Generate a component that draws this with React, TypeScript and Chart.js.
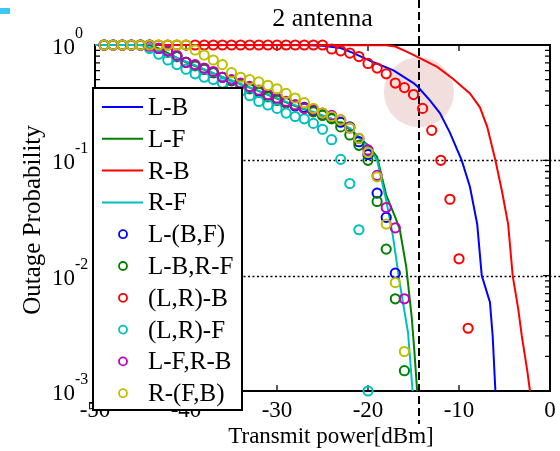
import React, { useEffect, useRef } from "react";
import { Chart, registerables } from "chart.js";

Chart.register(...registerables);

// ---------- data ----------
const xTicks = [-50, -40, -30, -20, -10, 0];
const yTicks = [1, 0.1, 0.01, 0.001];
const yTickExponents = ["0", "-1", "-2", "-3"];
const yMinorTicks = [
  0.9, 0.8, 0.7, 0.6, 0.5, 0.4, 0.3, 0.2,
  0.09, 0.08, 0.07, 0.06, 0.05, 0.04, 0.03, 0.02,
  0.009, 0.008, 0.007, 0.006, 0.005, 0.004, 0.003, 0.002,
];

const markerPower = [
  -49, -48, -47, -46, -45, -44, -43, -42, -41, -40,
  -39, -38, -37, -36, -35, -34, -33, -32, -31, -30,
  -29, -28, -27, -26, -25, -24, -23, -22, -21, -20,
  -19, -18, -17, -16, -15, -14, -13, -12, -11, -10, -9,
];

// line series (simulation curves)
const lbX = [-50, -27, -25, -23, -21.6, -19.4, -17.2, -15, -14.5, -13.2, -12.1, -11, -9.7, -8.8, -8, -7.5, -6.6, -6.3, -6.0];
const lbY = [1, 1, 0.985, 0.942, 0.851, 0.708, 0.603, 0.468, 0.432, 0.331, 0.257, 0.174, 0.1, 0.059, 0.028, 0.01, 0.0059, 0.003, 0.001];

const lfX = [-50, -44, -43, -40, -36, -32, -28, -24, -22, -21, -20, -19, -18, -17, -16.5, -15.8, -15.2, -14.9, -14.6];
const lfY = [1, 1, 0.933, 0.708, 0.525, 0.398, 0.295, 0.229, 0.186, 0.158, 0.135, 0.107, 0.05, 0.032, 0.025, 0.012, 0.0044, 0.0022, 0.001];

const rbX = [-50, -18, -17, -15.7, -14.3, -12.4, -10.7, -8.8, -7.7, -6.9, -6.0, -5.3, -4.6, -4.1, -3.5, -3.1, -2.5, -2.2];
const rbY = [1, 0.995, 0.97, 0.871, 0.771, 0.646, 0.513, 0.38, 0.288, 0.195, 0.1, 0.055, 0.028, 0.01, 0.0052, 0.003, 0.0015, 0.001];

const rfX = [-50, -45, -44, -40, -36, -32, -28, -24, -22, -21, -20, -19, -18, -17.3, -16.5, -15.6, -15.1];
const rfY = [1, 1, 0.95, 0.72, 0.53, 0.4, 0.3, 0.23, 0.19, 0.16, 0.13, 0.1, 0.045, 0.023, 0.0085, 0.0032, 0.001];

// marker series (analysis), aligned with markerPower
const lBF = [
  1, 1, 1, 1, 1, 1, 0.933, 0.871, 0.794, 0.708,
  0.661, 0.617, 0.575, 0.525, 0.49, 0.457, 0.427, 0.398, 0.363, 0.339,
  0.316, 0.295, 0.288, 0.269, 0.251, 0.234, 0.214, 0.195, 0.145, 0.112,
  0.052, 0.032, 0.0105, null, null, null, null, null, null, null, null,
];
const lBrF = [
  1, 1, 1, 1, 1, 1, 0.933, 0.871, 0.794, 0.708,
  0.661, 0.617, 0.575, 0.525, 0.49, 0.457, 0.417, 0.389, 0.355, 0.331,
  0.316, 0.302, 0.282, 0.263, 0.245, 0.229, 0.195, 0.166, 0.135, 0.1,
  0.044, 0.017, 0.0063, 0.0015, null, null, null, null, null, null, null,
];
const lrB = [
  1, 1, 1, 1, 1, 1, 1, 1, 1, 1,
  1, 1, 1, 1, 1, 1, 1, 1, 1, 1,
  1, 1, 1, 1, 1, 0.923, 0.891, 0.851, 0.794, 0.692,
  0.631, 0.562, 0.468, 0.427, 0.372, 0.282, 0.182, 0.1, 0.046, 0.014, 0.0035,
];
const lrF = [
  1, 1, 1, 1, 1, 0.933, 0.832, 0.741, 0.676, 0.617,
  0.562, 0.525, 0.501, 0.468, 0.437, 0.398, 0.363, 0.324, 0.302, 0.282,
  0.257, 0.24, 0.229, 0.209, 0.186, 0.151, 0.102, 0.063, 0.025, 0.001,
  null, null, null, null, null, null, null, null, null, null, null,
];
const lFrB = [
  1, 1, 1, 1, 1, 0.977, 0.933, 0.891, 0.813, 0.708,
  0.676, 0.631, 0.589, 0.525, 0.501, 0.468, 0.437, 0.407, 0.372, 0.347,
  0.324, 0.302, 0.282, 0.275, 0.257, 0.245, 0.224, 0.191, 0.155, 0.123,
  0.074, 0.039, 0.026, 0.0063, null, null, null, null, null, null, null,
];
const rFB = [
  1, 1, 1, 1, 1, 1, 1, 1, 1, 1,
  0.906, 0.818, 0.741, 0.676, 0.575, 0.525, 0.501, 0.479, 0.447, 0.417,
  0.38, 0.347, 0.316, 0.282, 0.257, 0.24, 0.224, 0.191, 0.155, 0.117,
  0.072, 0.028, 0.0087, 0.0022, null, null, null, null, null, null, null,
];

const thresholdPower = -14.4;
const highlightPower = -14.4;
const highlightOutage = 0.39;

const BLUE = "#0000ff";
const GREEN = "#008000";
const RED = "#ff0000";
const CYAN = "#00bfbf";
const MAGENTA = "#bf00bf";
const YELLOW = "#bfbf00";
const SERIF = '"Liberation Serif", "Times New Roman", serif';

const toPts = (xs: number[], ys: (number | null)[]) =>
  xs.map((x, i) => ({ x, y: ys[i] })).filter((p) => p.y !== null);

const lineDs = (label: string, color: string, xs: number[], ys: number[], order: number) => ({
  label,
  data: toPts(xs, ys),
  borderColor: color,
  backgroundColor: color,
  borderWidth: 2,
  pointRadius: 0,
  showLine: true,
  tension: 0,
  order,
  clip: false as const,
  _kind: "line",
});

const markDs = (label: string, color: string, ys: (number | null)[], order: number) => ({
  label,
  data: toPts(markerPower, ys),
  borderColor: color,
  backgroundColor: "rgba(0,0,0,0)",
  borderWidth: 2,
  pointRadius: 4.6,
  pointStyle: "circle",
  showLine: false,
  order,
  clip: false as const,
  _kind: "mark",
});

const decorPlugin = {
  id: "decor",
  beforeDatasetsDraw(chart: any) {
    const { ctx, chartArea: a, scales } = chart;
    const x = scales.x;
    const y = scales.y;
    const W = chart.width;
    ctx.save();
    // highlight circle
    ctx.fillStyle = "#f3dede";
    ctx.beginPath();
    ctx.arc(x.getPixelForValue(highlightPower), y.getPixelForValue(highlightOutage), 35, 0, Math.PI * 2);
    ctx.fill();

    // dotted grid lines at 1e-1 and 1e-2
    ctx.strokeStyle = "#000";
    ctx.lineWidth = 1.6;
    ctx.setLineDash([2, 2.5]);
    [0.1, 0.01].forEach((v) => {
      const py = Math.round(y.getPixelForValue(v)) + 0.5;
      ctx.beginPath();
      ctx.moveTo(a.left, py);
      ctx.lineTo(W, py);
      ctx.stroke();
    });

    // dashed vertical threshold
    ctx.setLineDash([8, 4]);
    ctx.lineWidth = 2;
    const tx = Math.round(x.getPixelForValue(thresholdPower));
    ctx.beginPath();
    ctx.moveTo(tx, 0);
    ctx.lineTo(tx, 424);
    ctx.stroke();
    ctx.setLineDash([]);

    // axes box
    ctx.lineWidth = 2;
    ctx.strokeRect(a.left, a.top, a.right - a.left, a.bottom - a.top);

    // ticks
    ctx.lineWidth = 1.3;
    xTicks.forEach((v) => {
      const px = x.getPixelForValue(v);
      ctx.beginPath();
      ctx.moveTo(px, a.bottom);
      ctx.lineTo(px, a.bottom - 6);
      ctx.moveTo(px, a.top);
      ctx.lineTo(px, a.top + 6);
      ctx.stroke();
    });
    yTicks.forEach((v) => {
      const py = y.getPixelForValue(v);
      ctx.beginPath();
      ctx.moveTo(a.left, py);
      ctx.lineTo(a.left + 7, py);
      ctx.moveTo(a.right, py);
      ctx.lineTo(a.right - 7, py);
      ctx.stroke();
    });
    yMinorTicks.forEach((v) => {
      const py = y.getPixelForValue(v);
      ctx.beginPath();
      ctx.moveTo(a.left, py);
      ctx.lineTo(a.left + 5, py);
      ctx.moveTo(a.right, py);
      ctx.lineTo(a.right - 5, py);
      ctx.stroke();
    });
    ctx.restore();
  },
  afterDatasetsDraw(chart: any) {
    const { ctx, chartArea: a, scales } = chart;
    const x = scales.x;
    const y = scales.y;
    ctx.save();
    ctx.fillStyle = "#000";

    // title
    ctx.font = `26px ${SERIF}`;
    ctx.textAlign = "center";
    ctx.textBaseline = "alphabetic";
    ctx.fillText("2 antenna", (a.left + a.right) / 2, 26);

    // x tick labels
    ctx.font = `23px ${SERIF}`;
    xTicks.forEach((v) => {
      ctx.fillText(String(v), x.getPixelForValue(v), 417);
    });

    // x title
    ctx.font = `23px ${SERIF}`;
    ctx.fillText("Transmit power[dBm]", 331, 443);

    // y tick labels 10^k
    ctx.textAlign = "left";
    yTicks.forEach((v, i) => {
      const py = y.getPixelForValue(v);
      ctx.font = `23px ${SERIF}`;
      ctx.fillText("10", 52, py + 9);
      const w = ctx.measureText("10").width;
      ctx.font = `16px ${SERIF}`;
      ctx.fillText(yTickExponents[i], 52 + w, py - 7);
    });

    // y title
    ctx.save();
    ctx.translate(40, (a.top + a.bottom) / 2 + 2);
    ctx.rotate(-Math.PI / 2);
    ctx.textAlign = "center";
    ctx.font = `25px ${SERIF}`;
    ctx.fillText("Outage Probability", 0, 0);
    ctx.restore();

    // small cyan mark in the top-left corner
    ctx.fillStyle = "#3cc8ef";
    ctx.fillRect(0, 8, 10, 6);

    // legend
    const lx = 93, ly = 88, lw = 149, lh = 322;
    ctx.fillStyle = "#fff";
    ctx.fillRect(lx, ly, lw, lh);
    ctx.strokeStyle = "#000";
    ctx.lineWidth = 2;
    ctx.strokeRect(lx, ly, lw, lh);
    ctx.font = `25px ${SERIF}`;
    ctx.textAlign = "left";
    ctx.textBaseline = "alphabetic";
    chart.data.datasets.forEach((ds: any, i: number) => {
      const cy = 107 + i * 31.8;
      ctx.strokeStyle = ds.borderColor;
      if (ds._kind === "line") {
        ctx.lineWidth = 2;
        ctx.beginPath();
        ctx.moveTo(102, cy);
        ctx.lineTo(143, cy);
        ctx.stroke();
      } else {
        ctx.lineWidth = 1.8;
        ctx.beginPath();
        ctx.arc(123, cy, 4, 0, Math.PI * 2);
        ctx.stroke();
      }
      ctx.fillStyle = "#000";
      ctx.fillText(ds.label, 148, cy + 8);
    });
    ctx.restore();
  },
};

export default function App() {
  const ref = useRef<HTMLCanvasElement | null>(null);
  useEffect(() => {
    if (!ref.current) return;
    const chart = new Chart(ref.current, {
      type: "scatter",
      data: {
        datasets: [
          lineDs("L-B", BLUE, lbX, lbY, 9),
          lineDs("L-F", GREEN, lfX, lfY, 8),
          lineDs("R-B", RED, rbX, rbY, 7),
          lineDs("R-F", CYAN, rfX, rfY, 6),
          markDs("L-(B,F)", BLUE, lBF, 5),
          markDs("L-B,R-F", GREEN, lBrF, 4),
          markDs("(L,R)-B", RED, lrB, 3),
          markDs("(L,R)-F", CYAN, lrF, 2),
          markDs("L-F,R-B", MAGENTA, lFrB, 1),
          markDs("R-(F,B)", YELLOW, rFB, 0),
        ] as any,
      },
      options: {
        responsive: false,
        animation: false,
        events: [],
        layout: { padding: { left: 95, top: 45, right: 10, bottom: 60 } },
        plugins: { legend: { display: false }, tooltip: { enabled: false } },
        scales: {
          x: { type: "linear", min: -50, max: 0, display: false },
          y: { type: "logarithmic", min: 0.001, max: 1, display: false },
        },
      },
      plugins: [decorPlugin],
    });
    return () => chart.destroy();
  }, []);
  return (
    <div style={{ position: "absolute", left: 0, top: 0, width: 560, height: 451, background: "#fff" }}>
      <canvas ref={ref} width={560} height={451} />
    </div>
  );
}
